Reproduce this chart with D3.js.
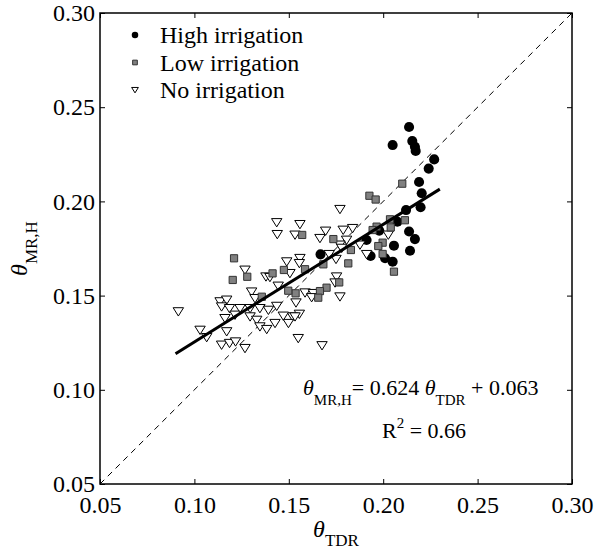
<!DOCTYPE html>
<html>
<head>
<meta charset="utf-8">
<script src="https://cdn.jsdelivr.net/npm/d3@7"></script>
<style>
  html, body { margin: 0; padding: 0; background: #fff; }
  svg { display: block; font-family: "Liberation Serif", "Times New Roman", serif; }
</style>
</head>
<body>
<svg id="chart" width="595" height="553"></svg>
<script>
// Soil water content: moisture-probe estimate vs TDR reference
const highIrrigation = [
  [0.1668, 0.1719], [0.1912, 0.1795], [0.1933, 0.1710], [0.1979, 0.1845],
  [0.2010, 0.1698], [0.2050, 0.1680], [0.2057, 0.1765], [0.2075, 0.1892],
  [0.2050, 0.2299], [0.2121, 0.1954], [0.2137, 0.2395], [0.2154, 0.2320],
  [0.2168, 0.2290], [0.2172, 0.2268], [0.2270, 0.2223], [0.2241, 0.2174],
  [0.2190, 0.2103], [0.2204, 0.2043], [0.2198, 0.1969], [0.2137, 0.1840],
  [0.2168, 0.1800], [0.2142, 0.1738]
];

const lowIrrigation = [
  [0.2101, 0.2094], [0.1927, 0.2030], [0.1960, 0.2010], [0.2115, 0.1900],
  [0.2036, 0.1905], [0.2040, 0.1862], [0.1965, 0.1866], [0.1944, 0.1848],
  [0.1997, 0.1781], [0.1974, 0.1763], [0.1997, 0.1721], [0.2057, 0.1627],
  [0.1571, 0.1822], [0.1736, 0.1800], [0.1829, 0.1742], [0.1683, 0.1666],
  [0.1815, 0.1671], [0.1586, 0.1640], [0.1767, 0.1570], [0.1700, 0.1542],
  [0.1665, 0.1524], [0.1656, 0.1489], [0.1536, 0.1512], [0.1210, 0.1698],
  [0.1203, 0.1583], [0.1280, 0.1600], [0.1414, 0.1618], [0.1474, 0.1636],
  [0.1357, 0.1494], [0.1497, 0.1526]
];

const noIrrigation = [
  [0.1771, 0.1958], [0.1559, 0.1878], [0.1533, 0.1822], [0.1695, 0.1843],
  [0.1665, 0.1804], [0.1788, 0.1848], [0.1838, 0.1857], [0.1806, 0.1795],
  [0.1771, 0.1769], [0.1780, 0.1752], [0.1877, 0.1769], [0.1912, 0.1719],
  [0.2027, 0.1822], [0.1714, 0.1719], [0.1750, 0.1693], [0.1559, 0.1698],
  [0.1556, 0.1671], [0.1506, 0.1618], [0.1753, 0.1600], [0.1745, 0.1568],
  [0.1586, 0.1515], [0.1630, 0.1512], [0.1621, 0.1490], [0.1771, 0.1494],
  [0.1538, 0.1462], [0.1556, 0.1402], [0.1520, 0.1388], [0.1550, 0.1273],
  [0.1436, 0.1888], [0.1439, 0.1825], [0.1489, 0.1680], [0.1268, 0.1636],
  [0.1379, 0.1600], [0.1400, 0.1597], [0.1444, 0.1551], [0.1303, 0.1520],
  [0.1321, 0.1485], [0.1136, 0.1468], [0.1171, 0.1477], [0.1144, 0.1441],
  [0.1186, 0.1432], [0.1242, 0.1432], [0.1295, 0.1432], [0.1347, 0.1432],
  [0.1392, 0.1423], [0.1436, 0.1444], [0.1162, 0.1379], [0.1215, 0.1397],
  [0.1295, 0.1388], [0.1330, 0.1370], [0.1347, 0.1335], [0.1383, 0.1321],
  [0.1427, 0.1353], [0.1471, 0.1392], [0.1498, 0.1353], [0.1533, 0.1388],
  [0.1171, 0.1309], [0.1030, 0.1317], [0.1065, 0.1278], [0.1144, 0.1238],
  [0.1186, 0.1247], [0.1218, 0.1255], [0.1268, 0.1220], [0.0915, 0.1415],
  [0.1676, 0.1235]
];

const tickValues = [0.05, 0.10, 0.15, 0.20, 0.25, 0.30];
const axisDomain = [0.05, 0.30];

// Linear fit: theta_MR,H = 0.624 theta_TDR + 0.063
const fitSlope = 0.624;
const fitIntercept = 0.063;
const fitRange = [0.09, 0.23];
const rSquared = "0.66";

const legendItems = [
  { label: "High irrigation", kind: "circle" },
  { label: "Low irrigation",  kind: "square" },
  { label: "No irrigation",   kind: "triangle" }
];

const serif = "'Liberation Serif', 'Times New Roman', serif";
const svg = d3.select("#chart").attr("font-family", serif);
const plotLeft = 100, plotRight = 572, plotTop = 13, plotBottom = 484;
const x = d3.scaleLinear().domain(axisDomain).range([plotLeft, plotRight]);
const y = d3.scaleLinear().domain(axisDomain).range([plotBottom, plotTop]);

const fontSize = 24;
const fmt = d3.format(".2f");

// Axes with inward ticks on all four sides
function styleAxis(g) {
  g.attr("font-family", serif);
  g.select(".domain").remove();
  g.selectAll(".tick line").attr("stroke", "#000").attr("stroke-width", 1);
  g.selectAll(".tick text")
    .attr("fill", "#000")
    .attr("font-size", fontSize)
    .attr("font-family", serif);
}

svg.append("g")
  .attr("transform", `translate(0,${plotBottom})`)
  .call(d3.axisBottom(x).tickValues(tickValues).tickFormat(fmt).tickSizeInner(-5).tickSizeOuter(0).tickPadding(12))
  .call(styleAxis);
svg.append("g")
  .attr("transform", `translate(0,${plotTop})`)
  .call(d3.axisTop(x).tickValues(tickValues).tickFormat("").tickSizeInner(-5).tickSizeOuter(0))
  .call(styleAxis);
svg.append("g")
  .attr("transform", `translate(${plotLeft},0)`)
  .call(d3.axisLeft(y).tickValues(tickValues).tickFormat(fmt).tickSizeInner(-5).tickSizeOuter(0).tickPadding(5))
  .call(styleAxis);
svg.append("g")
  .attr("transform", `translate(${plotRight},0)`)
  .call(d3.axisRight(y).tickValues(tickValues).tickFormat("").tickSizeInner(-5).tickSizeOuter(0))
  .call(styleAxis);

// 1:1 reference line
svg.append("line")
  .attr("x1", x(axisDomain[0])).attr("y1", y(axisDomain[0]))
  .attr("x2", x(axisDomain[1])).attr("y2", y(axisDomain[1]))
  .attr("stroke", "#000").attr("stroke-width", 1)
  .attr("stroke-dasharray", "6,5");

// Marker symbols
const circleSym = d3.symbol().type(d3.symbolCircle).size(80);
const squareSym = d3.symbol().type(d3.symbolSquare).size(52);
const triPath = (s) => `M${-s},${-s * 0.75}L${s},${-s * 0.75}L0,${s * 0.85}Z`;

function drawMarker(sel, kind, scale) {
  if (kind === "circle") {
    sel.append("path").attr("d", d3.symbol().type(d3.symbolCircle).size(80 * scale * scale)())
      .attr("fill", "#000");
  } else if (kind === "square") {
    sel.append("path").attr("d", d3.symbol().type(d3.symbolSquare).size(52 * scale * scale)())
      .attr("fill", "#808080").attr("stroke", "#333").attr("stroke-width", 1);
  } else {
    sel.append("path").attr("d", triPath(5.2 * scale))
      .attr("fill", "#fff").attr("stroke", "#000").attr("stroke-width", 1);
  }
}

const plot = svg.append("g");
plot.selectAll("path.high").data(highIrrigation).join("path")
  .attr("class", "high")
  .attr("d", circleSym())
  .attr("transform", d => `translate(${x(d[0])},${y(d[1])})`)
  .attr("fill", "#000");
plot.selectAll("path.none").data(noIrrigation).join("path")
  .attr("class", "none")
  .attr("d", triPath(5.2))
  .attr("transform", d => `translate(${x(d[0])},${y(d[1])})`)
  .attr("fill", "#fff").attr("stroke", "#000").attr("stroke-width", 1);
plot.selectAll("path.low").data(lowIrrigation).join("path")
  .attr("class", "low")
  .attr("d", squareSym())
  .attr("transform", d => `translate(${x(d[0])},${y(d[1])})`)
  .attr("fill", "#808080").attr("stroke", "#333").attr("stroke-width", 1);

// Regression line
svg.append("line")
  .attr("x1", x(fitRange[0])).attr("y1", y(fitSlope * fitRange[0] + fitIntercept))
  .attr("x2", x(fitRange[1])).attr("y2", y(fitSlope * fitRange[1] + fitIntercept))
  .attr("stroke", "#000").attr("stroke-width", 3);

// Plot frame
svg.append("rect")
  .attr("x", plotLeft).attr("y", plotTop)
  .attr("width", plotRight - plotLeft).attr("height", plotBottom - plotTop)
  .attr("fill", "none").attr("stroke", "#000").attr("stroke-width", 1.5);

// Legend
const legend = svg.append("g");
legendItems.forEach((item, i) => {
  const cy = 35 + i * 27.5;
  const m = legend.append("g").attr("transform", `translate(135,${cy})`);
  drawMarker(m, item.kind, 0.65);
  legend.append("text")
    .attr("x", 160).attr("y", cy + 8)
    .attr("font-size", fontSize)
    .attr("font-family", serif)
    .text(item.label);
});

// Fit equation and R²
const eqSize = 22, subSize = 15;
const eq = svg.append("text")
  .attr("x", 303).attr("y", 395)
  .attr("font-size", eqSize)
  .attr("font-family", serif);
eq.append("tspan").attr("font-style", "italic").text("θ");
eq.append("tspan").attr("font-size", subSize).attr("dy", 10).text("MR,H");
eq.append("tspan").attr("dy", -10).text(`= ${fitSlope} `);
eq.append("tspan").attr("font-style", "italic").text("θ");
eq.append("tspan").attr("font-size", subSize).attr("dy", 10).text("TDR");
eq.append("tspan").attr("dy", -10).text(` + ${fitIntercept.toFixed(3)}`);

const r2 = svg.append("text")
  .attr("x", 382).attr("y", 438)
  .attr("font-size", eqSize)
  .attr("font-family", serif);
r2.append("tspan").text("R");
r2.append("tspan").attr("font-size", subSize).attr("dy", -10).text("2");
r2.append("tspan").attr("dy", 10).text(` = ${rSquared}`);

// Axis titles
const xt = svg.append("text")
  .attr("x", (plotLeft + plotRight) / 2).attr("y", 537)
  .attr("text-anchor", "middle")
  .attr("font-size", 24)
  .attr("font-family", serif);
xt.append("tspan").attr("font-style", "italic").text("θ");
xt.append("tspan").attr("font-size", 17).attr("dy", 9).text("TDR");

const yt = svg.append("text")
  .attr("transform", `translate(27,${(plotTop + plotBottom) / 2}) rotate(-90)`)
  .attr("text-anchor", "middle")
  .attr("font-size", 24)
  .attr("font-family", serif);
yt.append("tspan").attr("font-style", "italic").text("θ");
yt.append("tspan").attr("font-size", 17).attr("dy", 10).text("MR,H");
</script>
</body>
</html>
